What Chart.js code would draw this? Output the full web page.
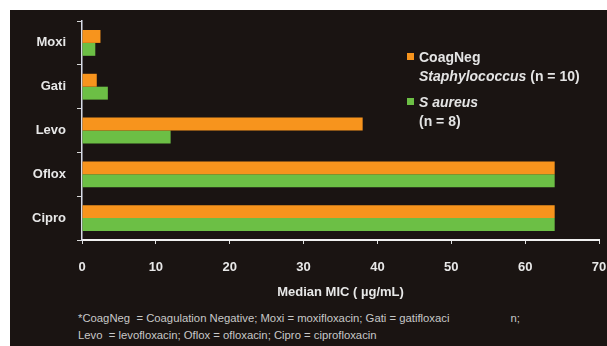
<!DOCTYPE html>
<html>
<head>
<meta charset="utf-8">
<script src="https://cdn.jsdelivr.net/npm/chart.js@4"></script>
<style>
  body { margin: 0; background: #fff; font-family: "Liberation Sans", Arial, sans-serif; }
  #panel { position: absolute; left: 10px; top: 10px; width: 597px; height: 336px; background: #1a1412; }
  #wrap { position: absolute; left: 0; top: 0; width: 597px; height: 295px; }
  .legend { position: absolute; left: 397px; top: 38px; color: #e4e4e4; font-weight: bold; font-size: 14px; line-height: 19px; }
  .legend .item { position: relative; padding-left: 12px; margin-bottom: 7px; }
  .legend .sw { position: absolute; left: 0; top: 5px; width: 7px; height: 7px; }
  .note { position: absolute; left: 68px; top: 300px; color: #c8c8c8; font-size: 11.3px; line-height: 17px; white-space: pre; }
</style>
</head>
<body>
<div id="panel">
  <div id="wrap"><canvas id="chart"></canvas></div>
  <div class="legend">
    <div class="item"><span class="sw" style="background:#f7941d"></span>CoagNeg<br><i>Staphylococcus</i>  (n = 10)</div>
    <div class="item"><span class="sw" style="background:#6cbf45"></span><i>S aureus</i><br>(n = 8)</div>
  </div>
  <div class="note">*CoagNeg  = Coagulation Negative; Moxi = moxifloxacin; Gati = gatifloxaci<span style="margin-left:61px">n;</span>
Levo  = levofloxacin; Oflox = ofloxacin; Cipro = ciprofloxacin</div>
</div>
<script>
// 药物类别与两组中位 MIC（µg/mL）
const drugs = ["Moxi", "Gati", "Levo", "Oflox", "Cipro"];
const coagNegMic = [2.5, 2, 38, 64, 64];
const aureusMic = [1.8, 3.5, 12, 64, 64];
const xMax = 70;
const xStep = 10;

const ctx = document.getElementById("chart").getContext("2d");
new Chart(ctx, {
  type: "bar",
  data: {
    labels: drugs,
    datasets: [
      {
        label: "CoagNeg Staphylococcus (n = 10)",
        data: coagNegMic,
        backgroundColor: "#f7941d",
        categoryPercentage: 0.59,
        barPercentage: 1.0,
      },
      {
        label: "S aureus (n = 8)",
        data: aureusMic,
        backgroundColor: "#6cbf45",
        categoryPercentage: 0.59,
        barPercentage: 1.0,
      },
    ],
  },
  options: {
    indexAxis: "y",
    responsive: true,
    maintainAspectRatio: false,
    animation: false,
    layout: { padding: { top: 11, right: 0, left: 0, bottom: 0 } },
    plugins: {
      legend: { display: false },
      tooltip: { enabled: false },
    },
    scales: {
      x: {
        min: 0,
        max: xMax,
        ticks: {
          stepSize: xStep,
          color: "#e8e8e8",
          padding: 16,
          font: { family: "Liberation Sans", size: 13, weight: "bold" },
        },
        grid: {
          drawOnChartArea: false,
          tickLength: 4,
          tickColor: "#e0e0e0",
          tickWidth: 1,
        },
        border: { color: "#f0f0f0", width: 2 },
        title: {
          display: true,
          text: "Median MIC ( µg/mL)",
          color: "#e8e8e8",
          padding: { top: 0, bottom: 5 },
          font: { family: "Liberation Sans", size: 13, weight: "bold" },
        },
        // 固定轴高度和右侧留白，使绘图区与原图对齐
        afterFit: (scale) => {
          scale.height = 65;
          scale.paddingLeft = 0;
          scale.paddingRight = 8;
        },
      },
      y: {
        ticks: {
          color: "#e8e8e8",
          padding: 11,
          font: { family: "Liberation Sans", size: 13, weight: "bold" },
        },
        grid: {
          drawOnChartArea: false,
          offset: true,
          tickLength: 5,
          tickColor: "#d8d8d8",
        },
        border: { color: "#d8dce8", width: 1.5 },
        afterFit: (scale) => {
          scale.width = 72;
          scale.paddingTop = 0;
          scale.paddingBottom = 0;
        },
      },
    },
  },
});
</script>
</body>
</html>
